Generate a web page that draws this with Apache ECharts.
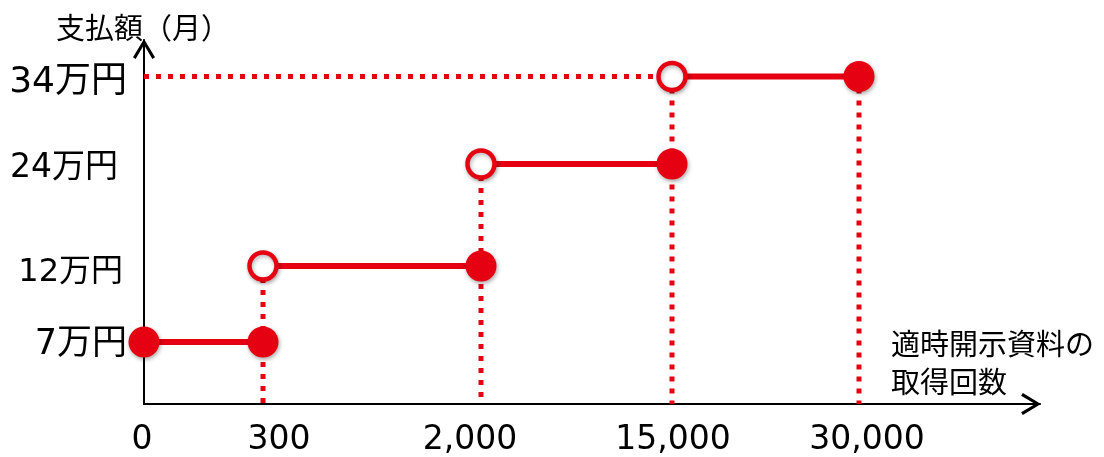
<!DOCTYPE html>
<html>
<head>
<meta charset="utf-8">
<script src="https://cdn.jsdelivr.net/npm/echarts@6/dist/echarts.min.js"></script>
<style>
html,body{margin:0;padding:0;background:#fff;}
#chart{width:1104px;height:457px;}
</style>
</head>
<body>
<div id="chart"></div>
<script>
// ---- data ----
// x tick labels (取得回数) and their positions on the schematic (non-proportional) axis
const xTickLabels = ['0', '300', '2,000', '15,000', '30,000'];
const xSlots = [0, 11.9, 33.7, 52.8, 71.5];
// payment levels (万円) and their positions on the schematic y axis
const levels = [7, 12, 24, 34];
const yTickLabels = ['7万円', '12万円', '24万円', '34万円'];
const ySlots = [6.2, 13.8, 24.0, 32.75];

const RED = '#E50012';
const FONT = "'DejaVu Sans', 'Noto Sans CJK JP', sans-serif";
const ARROW = 'path://M0,82 L50,0 L100,82 L88,90 L50,26 L12,90 Z';

const series = [];

// dotted guide lines
const guides = [];
guides.push([[0, ySlots[3]], [xSlots[3], ySlots[3]]]);
for (let k = 1; k < xSlots.length; k++) {
  const lv = ySlots[Math.min(k, ySlots.length - 1)];
  guides.push([[xSlots[k], lv], [xSlots[k], 0]]);
}
guides.forEach(seg => {
  series.push({
    type: 'line', data: seg, symbol: 'none', silent: true, z: 1,
    lineStyle: { color: RED, width: 5, type: [5, 7] }
  });
});

// solid step segments
for (let i = 0; i < levels.length; i++) {
  series.push({
    type: 'line', symbol: 'none', silent: true, z: 2,
    data: [[xSlots[i], ySlots[i]], [xSlots[i + 1], ySlots[i]]],
    lineStyle: { color: RED, width: 6 }
  });
}

// markers
const filled = [], open = [];
for (let i = 0; i < levels.length; i++) {
  if (i === 0) filled.push([xSlots[i], ySlots[i]]);
  else open.push([xSlots[i], ySlots[i]]);
  filled.push([xSlots[i + 1], ySlots[i]]);
}
series.push({
  type: 'scatter', data: filled, symbolSize: 31, z: 4, silent: true,
  itemStyle: { color: RED, opacity: 1, shadowBlur: 4, shadowColor: 'rgba(0,0,0,0.35)', shadowOffsetX: 1, shadowOffsetY: 2 }
});
series.push({
  type: 'scatter', data: open, symbolSize: 27, z: 4, silent: true,
  itemStyle: { color: '#fff', opacity: 1, borderColor: RED, borderWidth: 4.5, shadowBlur: 4, shadowColor: 'rgba(0,0,0,0.3)', shadowOffsetX: 1, shadowOffsetY: 2 }
});

const xs = { fontSize: 33, fontFamily: FONT, color: '#000' };
const xRich = {
  x0: Object.assign({}, xs, { padding: [0, 4, 0, 0] }),
  x1: Object.assign({}, xs, { padding: [0, 0, 0, 32] }),
  x2: Object.assign({}, xs, { padding: [0, 22, 0, 0] }),
  x3: Object.assign({}, xs, { padding: [0, 0, 0, 2] }),
  x4: Object.assign({}, xs, { padding: [0, 0, 0, 16] })
};
const yRich = {
  y0: { fontSize: 35, fontFamily: FONT, color: '#000', padding: [6, 0, 0, 0] },
  y1: { fontSize: 32, fontFamily: FONT, color: '#000', padding: [14, 4, 0, 0] },
  y2: { fontSize: 33, fontFamily: FONT, color: '#000', padding: [8, 9, 0, 0] },
  y3: { fontSize: 36, fontFamily: FONT, color: '#000', padding: [12, 0, 0, 0] }
};

const option = {
  animation: false,
  backgroundColor: '#fff',
  title: [
    { text: '支払額（月）', left: 51, top: 12, textStyle: { fontSize: 29, fontWeight: 'normal', fontFamily: FONT, color: '#000' } },
    { text: '適時開示資料の\n取得回数', left: 886, top: 323, textStyle: { fontSize: 29, lineHeight: 38, fontWeight: 'normal', fontFamily: FONT, color: '#000' } }
  ],
  grid: { left: 144, right: 64, top: 40, bottom: 53, containLabel: false, outerBoundsMode: 'none' },
  xAxis: {
    type: 'value', min: 0, max: 89.6,
    splitLine: { show: false }, axisTick: { show: false },
    axisLine: { show: true, lineStyle: { color: '#000', width: 2 }, symbol: ['none', ARROW], symbolSize: [22, 20], symbolOffset: [0, -9] },
    axisLabel: {
      customValues: xSlots, margin: 20,
      formatter: v => { const i = xSlots.indexOf(v); return i < 0 ? '' : '{x' + i + '|' + xTickLabels[i] + '}'; },
      rich: xRich
    }
  },
  yAxis: {
    type: 'value', min: 0, max: 36.4,
    splitLine: { show: false }, axisTick: { show: false },
    axisLine: { show: true, lineStyle: { color: '#000', width: 2 }, symbol: ['none', ARROW], symbolSize: [22, 20], symbolOffset: [0, -9] },
    axisLabel: {
      customValues: ySlots, margin: 17,
      formatter: v => { const i = ySlots.indexOf(v); return i < 0 ? '' : '{y' + i + '|' + yTickLabels[i] + '}'; },
      rich: yRich
    }
  },
  series: series
};

const chart = echarts.init(document.getElementById('chart'));
chart.setOption(option);
</script>
</body>
</html>
